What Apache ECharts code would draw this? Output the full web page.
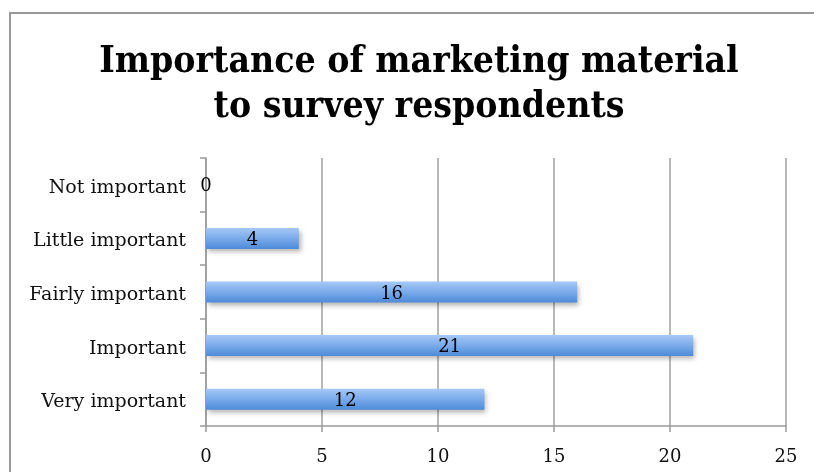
<!DOCTYPE html>
<html>
<head>
<meta charset="utf-8">
<script src="https://cdn.jsdelivr.net/npm/echarts@6/dist/echarts.min.js"></script>
<style>
  html, body { margin: 0; padding: 0; background: #fff; }
  #chart { width: 814px; height: 472px; }
</style>
</head>
<body>
<div id="chart"></div>
<script>
// Survey answers: how important marketing material is to respondents
const categories = ['Not important', 'Little important', 'Fairly important', 'Important', 'Very important'];
const responses = [0, 4, 16, 21, 12];
const xTicks = { min: 0, max: 25, interval: 5 };
const titleText = 'Importance of marketing material\nto survey respondents';

const chart = echarts.init(document.getElementById('chart'));
const serif = '"DejaVu Serif", serif';
const serifTitle = '"DejaVu Serif Condensed", "DejaVu Serif", serif';

chart.setOption({
  animation: false,
  backgroundColor: '#fff',
  graphic: [{
    type: 'rect',
    shape: { x: 10, y: 13, width: 830, height: 500 },
    style: { fill: 'none', stroke: '#999999', lineWidth: 2 },
    silent: true
  }, {
    type: 'text',
    x: 419,
    y: 40,
    silent: true,
    style: {
      text: titleText,
      align: 'center',
      verticalAlign: 'top',
      fontFamily: serifTitle,
      fontWeight: 'bold',
      fontSize: 37,
      lineHeight: 45,
      fill: '#000'
    }
  }],
  grid: { left: 206, right: 28, top: 158, bottom: 46, containLabel: false },
  xAxis: {
    type: 'value',
    min: xTicks.min,
    max: xTicks.max,
    interval: xTicks.interval,
    axisLine: { show: true, lineStyle: { color: '#9a9a9a', width: 1.5 } },
    axisTick: { show: true, length: 6, lineStyle: { color: '#9a9a9a', width: 1.5 } },
    axisLabel: { margin: 22, fontFamily: serif, fontSize: 18, color: '#111' },
    splitLine: { show: true, lineStyle: { color: '#a0a0a0', width: 1.5 } }
  },
  yAxis: {
    type: 'category',
    inverse: true,
    data: categories,
    axisLine: { show: true, lineStyle: { color: '#9a9a9a', width: 1.5 } },
    axisTick: { show: true, length: 6, lineStyle: { color: '#9a9a9a', width: 1.5 } },
    axisLabel: {
      margin: 20,
      formatter: '{c|{value}}',
      rich: {
        c: { fontFamily: serif, fontSize: 19, color: '#111', padding: [6, 0, 0, 0] }
      }
    }
  },
  series: [{
    type: 'bar',
    data: responses,
    barWidth: 21,
    itemStyle: {
      color: new echarts.graphic.LinearGradient(0, 0, 0, 1, [
        { offset: 0, color: '#a6c9f6' },
        { offset: 0.5, color: '#7aaaea' },
        { offset: 1, color: '#4d8bd9' }
      ]),
      shadowColor: 'rgba(0,0,0,0.3)',
      shadowBlur: 5,
      shadowOffsetX: 2,
      shadowOffsetY: 3
    },
    label: {
      show: true,
      position: 'inside',
      formatter: '{v|{c}}',
      rich: {
        v: { fontFamily: serif, fontSize: 18, color: '#000', padding: [4, 0, 0, 0] }
      }
    }
  }]
});
</script>
</body>
</html>
